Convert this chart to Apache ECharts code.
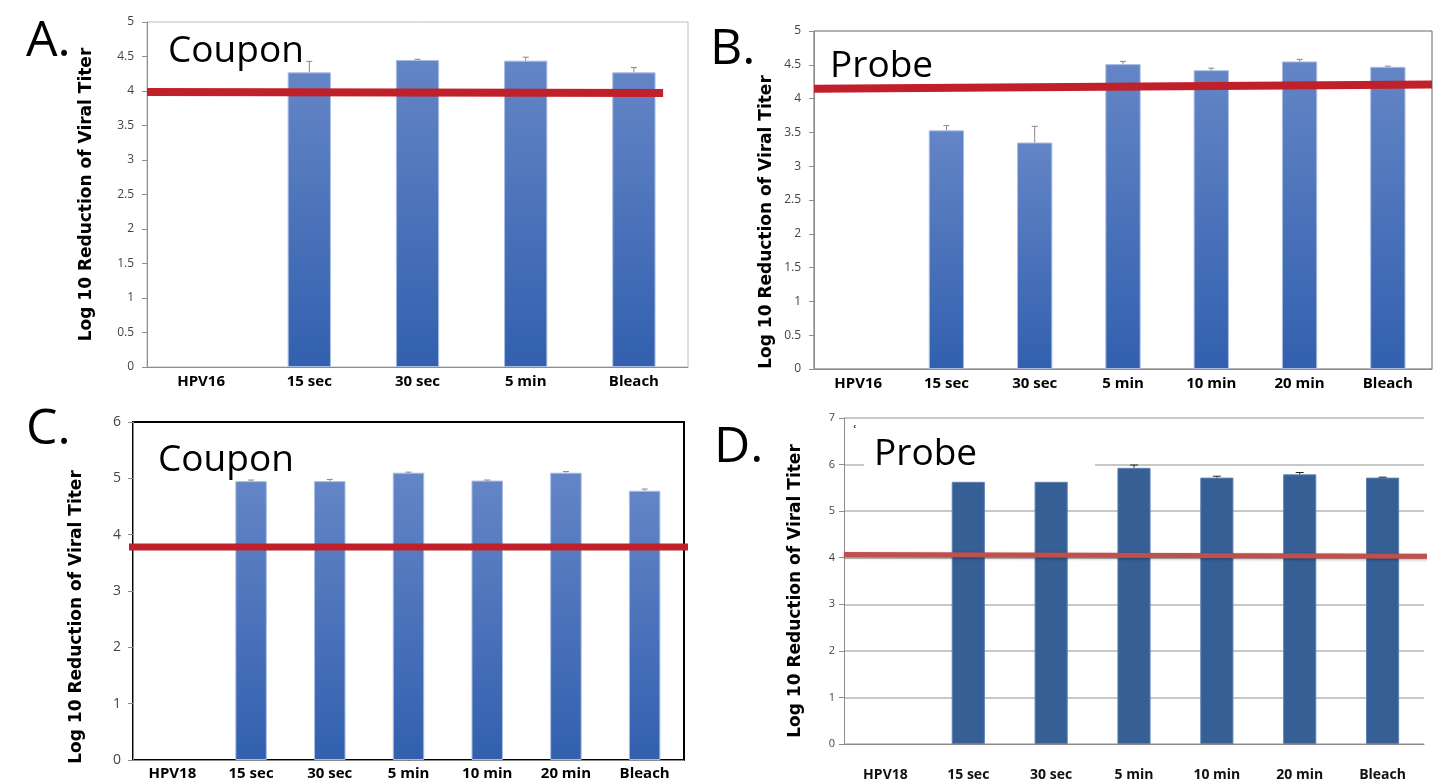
<!DOCTYPE html>
<html>
<head>
<meta charset="utf-8">
<script src="https://cdn.jsdelivr.net/npm/echarts@6/dist/echarts.min.js"></script>
<style>
html,body{margin:0;padding:0;background:#fff;}
#main{width:1444px;height:782px;}
</style>
</head>
<body>
<div id="main"></div>
<script>
// ---------- data ----------
const catA = ['HPV16', '15 sec', '30 sec', '5 min', 'Bleach'];
const valA = [null, 4.27, 4.45, 4.44, 4.27];
const errA = [null, 0.16, 0.01, 0.05, 0.07];
const refAx = [0, 0.954];
const refAy = [3.985, 3.97];

const catB = ['HPV16', '15 sec', '30 sec', '5 min', '10 min', '20 min', 'Bleach'];
const valB = [null, 3.53, 3.35, 4.51, 4.42, 4.55, 4.47];
const errB = [null, 0.07, 0.24, 0.04, 0.03, 0.03, 0.01];
const refBx = [0, 1];
const refBy = [4.145, 4.21];

const catC = ['HPV18', '15 sec', '30 sec', '5 min', '10 min', '20 min', 'Bleach'];
const valC = [null, 4.95, 4.95, 5.10, 4.96, 5.10, 4.78];
const errC = [null, 0.02, 0.03, 0.01, 0.01, 0.02, 0.03];
const refCx = [-0.02, 1.01];
const refCy = [3.78, 3.78];

const catD = ['HPV18', '15 sec', '30 sec', '5 min', '10 min', '20 min', 'Bleach'];
const valD = [null, 5.63, 5.63, 5.93, 5.72, 5.79, 5.72];
const errD = [null, 0, 0, 0.06, 0.03, 0.04, 0.01];
const refDx = [0, 1.03];
const refDy = [4.07, 4.03];

const ticksA = {min: 0, max: 5, interval: 0.5};
const ticksB = {min: 0, max: 5, interval: 0.5};
const ticksC = {min: 0, max: 6, interval: 1};
const ticksD = {min: 0, max: 7, interval: 1};

const yName = 'Log 10 Reduction of Viral Titer';

// ---------- helpers ----------
const gradBlue = {
  type: 'linear', x: 0, y: 0, x2: 0, y2: 1,
  colorStops: [{offset: 0, color: '#6485c6'}, {offset: 1, color: '#3260ae'}]
};
const tickFont = '"Liberation Sans Narrow", "Open Sans", sans-serif';

function errSeries(idx, vals, errs, color, capW) {
  const data = [];
  vals.forEach((v, i) => { if (v != null && errs[i] > 0) data.push([i, v, v + errs[i]]); });
  return {
    type: 'custom', xAxisIndex: idx, yAxisIndex: idx, z: 5,
    data: data,
    encode: {x: 0, y: [1, 2]},
    renderItem: function (params, api) {
      const p1 = api.coord([api.value(0), api.value(1)]);
      const p2 = api.coord([api.value(0), api.value(2)]);
      return {
        type: 'group',
        children: [
          {type: 'line', shape: {x1: p1[0], y1: p1[1], x2: p2[0], y2: p2[1]}, style: {stroke: color, lineWidth: 1}},
          {type: 'line', shape: {x1: p2[0] - capW / 2, y1: p2[1], x2: p2[0] + capW / 2, y2: p2[1]}, style: {stroke: color, lineWidth: 1}}
        ]
      };
    }
  };
}
function barSeries(idx, vals, color, border) {
  return {
    type: 'bar', xAxisIndex: idx, yAxisIndex: idx, data: vals, barWidth: '40%', z: 2,
    itemStyle: {color: color, borderColor: border, borderWidth: 1}
  };
}
function refSeries(idx, xs, ys, color, w, shadow) {
  return {
    type: 'line', xAxisIndex: idx + 4, yAxisIndex: idx, z: 10, clip: false,
    symbol: 'none', silent: true,
    data: xs.map((x, i) => [x, ys[i]]),
    lineStyle: Object.assign({color: color, width: w}, shadow ? {shadowColor: 'rgba(0,0,0,0.35)', shadowBlur: 3, shadowOffsetY: 1} : {})
  };
}
function catAxis(idx, cats, margin, size, color) {
  return {
    type: 'category', gridIndex: idx, data: cats,
    axisLine: {show: true, lineStyle: {color: '#8c8c8c', width: 1}},
    axisTick: {show: false},
    axisLabel: {margin: margin, fontFamily: tickFont, fontWeight: 'bold', fontSize: size, color: color}
  };
}
function valXAxis(idx) {
  return {type: 'value', gridIndex: idx, min: 0, max: 1, show: false};
}
function yAxis(idx, t, gap, lblMargin, lblSize, grid, shiftDown) {
  return {
    type: 'value', gridIndex: idx, min: t.min, max: t.max, interval: t.interval,
    name: yName, nameLocation: 'middle', nameGap: gap, nameRotate: 90,
    nameTextStyle: {fontFamily: '"DejaVu Sans", sans-serif', fontWeight: 'bold', fontSize: 17, color: '#000',
      padding: [0, shiftDown * 2, 0, 0]},
    axisLine: {show: true, lineStyle: {color: '#8c8c8c', width: 1}},
    axisTick: {show: true, length: 5, lineStyle: {color: '#8c8c8c'}},
    axisLabel: {margin: lblMargin, fontFamily: tickFont, fontSize: lblSize, color: '#444'},
    splitLine: {show: grid, lineStyle: {color: '#b4b4b4', width: 1.5}}
  };
}
function txt(text, left, top, size, extra) {
  return Object.assign({
    text: text, left: left, top: top, padding: 0,
    textStyle: {fontFamily: '"Open Sans", sans-serif', fontWeight: 'normal', fontSize: size, color: '#000'}
  }, extra || {});
}

const chart = echarts.init(document.getElementById('main'), null, {renderer: 'canvas'});
chart.setOption({
  backgroundColor: '#fff',
  animation: false,
  title: [
    txt('A.', 26, 17, 50),
    txt('Coupon', 168, 33, 37),
    txt('B.', 710, 25, 50),
    txt('Probe', 830, 48, 37),
    txt('C.', 26, 405, 50),
    txt('Coupon', 158, 442, 37),
    txt('D.', 714, 423, 50),
    txt('Probe', 864, 430, 37, {backgroundColor: '#fff', padding: [6, 118, 4, 10]}),
    txt('\u02BF', 852, 424, 16, {textStyle: {fontFamily: '"Open Sans", sans-serif', fontSize: 16, color: '#222'}})
  ],
  grid: [
    {left: 147, top: 22, width: 541, height: 345, show: true, borderColor: '#bcbcbc', borderWidth: 1, backgroundColor: 'transparent'},
    {left: 814, top: 31, width: 618, height: 338, show: true, borderColor: '#666', borderWidth: 1, backgroundColor: 'transparent'},
    {left: 133, top: 422, width: 551, height: 338, show: true, borderColor: '#000', borderWidth: 2, backgroundColor: 'transparent'},
    {left: 844, top: 418, width: 580, height: 328, show: false}
  ],
  xAxis: [
    catAxis(0, catA, 7, 15, '#000'),
    catAxis(1, catB, 7, 15, '#000'),
    catAxis(2, catC, 6, 15, '#000'),
    catAxis(3, catD, 24, 14, '#111'),
    valXAxis(0), valXAxis(1), valXAxis(2), valXAxis(3)
  ],
  yAxis: [
    yAxis(0, ticksA, 52, 13, 12, false, 0),
    yAxis(1, ticksB, 39, 13, 12, false, 22),
    yAxis(2, ticksC, 48, 12, 14, false, 26),
    yAxis(3, ticksD, 40, 9, 11, true, 10)
  ],
  series: [
    barSeries(0, valA, gradBlue, '#a9bde2'),
    barSeries(1, valB, gradBlue, '#a9bde2'),
    barSeries(2, valC, gradBlue, '#a9bde2'),
    barSeries(3, valD, '#365f96', '#5f81b0'),
    errSeries(0, valA, errA, '#888', 6),
    errSeries(1, valB, errB, '#888', 6),
    errSeries(2, valC, errC, '#888', 6),
    errSeries(3, valD, errD, '#222', 8),
    refSeries(0, refAx, refAy, '#c0202a', 8, false),
    refSeries(1, refBx, refBy, '#c0202a', 8, false),
    refSeries(2, refCx, refCy, '#c0202a', 7, false),
    refSeries(3, refDx, refDy, '#c0504d', 5, true)
  ]
});
</script>
</body>
</html>
